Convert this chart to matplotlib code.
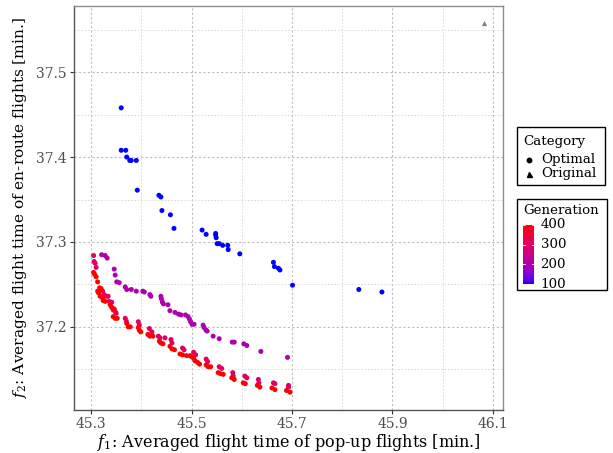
import numpy as np
import matplotlib
matplotlib.use("Agg")
import matplotlib.pyplot as plt
from matplotlib.colors import ListedColormap, Normalize
from matplotlib.patches import Rectangle
from matplotlib.lines import Line2D

plt.rcParams['font.family'] = ['DejaVu Serif']
plt.rcParams['mathtext.fontset'] = 'dejavuserif'

# ---------------- data ----------------
gen100_x = [45.360, 45.360, 45.369, 45.371, 45.377, 45.380, 45.390, 45.392, 45.435, 45.439,
            45.441, 45.458, 45.465, 45.521, 45.529, 45.548, 45.548, 45.549, 45.551, 45.555,
            45.562, 45.572, 45.573, 45.596, 45.663, 45.665, 45.673, 45.676, 45.701, 45.833,
            45.879]
gen100_y = [37.458, 37.408, 37.408, 37.400, 37.396, 37.396, 37.396, 37.361, 37.355, 37.353,
            37.337, 37.332, 37.316, 37.314, 37.309, 37.310, 37.308, 37.305, 37.298, 37.298,
            37.296, 37.296, 37.291, 37.286, 37.276, 37.271, 37.269, 37.267, 37.249, 37.244,
            37.241]

gen200_x = [45.321, 45.328, 45.332, 45.346, 45.348, 45.351, 45.356, 45.368, 45.371, 45.380,
            45.390, 45.403, 45.406, 45.417, 45.419, 45.439, 45.440, 45.442, 45.444, 45.453,
            45.457, 45.467, 45.474, 45.479, 45.488, 45.493, 45.496, 45.498, 45.501, 45.505,
            45.523, 45.525, 45.529, 45.531, 45.543, 45.555, 45.581, 45.585, 45.604, 45.610,
            45.638, 45.691]
gen200_y = [37.285, 37.284, 37.281, 37.268, 37.261, 37.253, 37.252, 37.247, 37.244, 37.244,
            37.242, 37.242, 37.241, 37.238, 37.236, 37.236, 37.233, 37.229, 37.227, 37.226,
            37.219, 37.217, 37.215, 37.214, 37.214, 37.212, 37.209, 37.206, 37.203, 37.203,
            37.202, 37.199, 37.196, 37.195, 37.189, 37.186, 37.182, 37.182, 37.180, 37.178,
            37.171, 37.164]

gen300_x = [45.305, 45.306, 45.308, 45.310, 45.323, 45.326, 45.331, 45.334, 45.336, 45.341,
            45.344, 45.348, 45.350, 45.368, 45.370, 45.394, 45.396, 45.416, 45.421, 45.434,
            45.437, 45.447, 45.459, 45.461, 45.482, 45.485, 45.504, 45.508, 45.529, 45.532,
            45.555, 45.560, 45.582, 45.583, 45.606, 45.610, 45.633, 45.634, 45.663, 45.666,
            45.693, 45.693]
gen300_y = [37.284, 37.277, 37.275, 37.270, 37.242, 37.238, 37.236, 37.236, 37.230, 37.229,
            37.220, 37.218, 37.216, 37.210, 37.207, 37.206, 37.202, 37.198, 37.194, 37.189,
            37.187, 37.187, 37.185, 37.181, 37.175, 37.173, 37.170, 37.167, 37.162, 37.159,
            37.153, 37.151, 37.146, 37.142, 37.142, 37.140, 37.138, 37.134, 37.134, 37.133,
            37.131, 37.129]

gen400_x = [45.305, 45.307, 45.310, 45.313, 45.317, 45.320, 45.313, 45.315, 45.318, 45.323,
            45.324, 45.328, 45.338, 45.341, 45.346, 45.344, 45.348, 45.352, 45.371, 45.374,
            45.378, 45.394, 45.396, 45.399, 45.413, 45.417, 45.423, 45.436, 45.439, 45.443,
            45.457, 45.461, 45.466, 45.477, 45.482, 45.490, 45.497, 45.500, 45.504, 45.507,
            45.512, 45.516, 45.529, 45.533, 45.538, 45.553, 45.557, 45.563, 45.580, 45.585,
            45.603, 45.607, 45.631, 45.636, 45.660, 45.666, 45.689, 45.696]
gen400_y = [37.264, 37.262, 37.259, 37.253, 37.246, 37.245, 37.242, 37.240, 37.236, 37.234,
            37.231, 37.230, 37.226, 37.223, 37.221, 37.212, 37.210, 37.210, 37.204, 37.200,
            37.200, 37.199, 37.196, 37.194, 37.191, 37.189, 37.189, 37.183, 37.181, 37.180,
            37.177, 37.174, 37.173, 37.168, 37.167, 37.166, 37.166, 37.165, 37.163, 37.160,
            37.158, 37.156, 37.155, 37.153, 37.153, 37.146, 37.145, 37.144, 37.140, 37.138,
            37.134, 37.133, 37.131, 37.129, 37.128, 37.126, 37.125, 37.123]

original_x = [46.082]
original_y = [37.558]

gen_min, gen_max = 100, 400
x_ticks = [45.3, 45.5, 45.7, 45.9, 46.1]
y_ticks = [37.2, 37.3, 37.4, 37.5]
cbar_ticks = [100, 200, 300, 400]

# ---------------- colour scale (Lab interpolation blue -> red) ----------------
def srgb_to_lab(rgb):
    c = np.array(rgb, float)
    c = np.where(c > 0.04045, ((c + 0.055) / 1.055) ** 2.4, c / 12.92)
    M = np.array([[0.4124, 0.3576, 0.1805], [0.2126, 0.7152, 0.0722], [0.0193, 0.1192, 0.9505]])
    X, Y, Z = M @ c
    X /= 0.95047; Z /= 1.08883
    f = lambda t: np.where(t > 0.008856, np.cbrt(t), 7.787 * t + 16 / 116)
    fx, fy, fz = f(X), f(Y), f(Z)
    return np.array([116 * fy - 16, 500 * (fx - fy), 200 * (fy - fz)])

def lab_to_srgb(lab):
    L, a, b = lab
    fy = (L + 16) / 116; fx = fy + a / 500; fz = fy - b / 200
    finv = lambda t: t ** 3 if t ** 3 > 0.008856 else (t - 16 / 116) / 7.787
    X, Y, Z = 0.95047 * finv(fx), finv(fy), 1.08883 * finv(fz)
    M = np.array([[3.2406, -1.5372, -0.4986], [-0.9689, 1.8758, 0.0415], [0.0557, -0.2040, 1.0570]])
    c = M @ np.array([X, Y, Z])
    c = np.clip(c, 0, 1)
    c = np.where(c > 0.0031308, 1.055 * c ** (1 / 2.4) - 0.055, 12.92 * c)
    return np.clip(c, 0, 1)

lab_lo = srgb_to_lab([0, 0, 1])
lab_hi = srgb_to_lab([1, 0, 0])
cols = [lab_to_srgb(lab_lo + (lab_hi - lab_lo) * t) for t in np.linspace(0, 1, 256)]
cmap = ListedColormap(cols)
norm = Normalize(gen_min, gen_max)

# ---------------- figure ----------------
W, H = 613, 453
fig = plt.figure(figsize=(W / 100, H / 100), dpi=100)
L_, R_, T_, B_ = 74, 503, 6, 410
ax = fig.add_axes([L_ / W, 1 - B_ / H, (R_ - L_) / W, (B_ - T_) / H])

ax.set_xlim(45.266, 46.120)
ax.set_ylim(37.102, 37.578)

ax.set_xticks(x_ticks)
ax.set_xticklabels([f"{v:.1f}" for v in x_ticks])
ax.set_yticks(y_ticks)
ax.set_yticklabels([f"{v:.1f}" for v in y_ticks])
ax.set_xticks([45.4, 45.6, 45.8, 46.0], minor=True)
ax.set_yticks([37.15, 37.25, 37.35, 37.45, 37.55], minor=True)
ax.tick_params(which='major', length=3, width=0.8, color='#333333', labelsize=10,
               labelcolor='#4D4D4D', pad=2)
ax.tick_params(which='minor', length=0)
ax.grid(which='major', color='#BDBDBD', linestyle=(0, (2, 2)), linewidth=0.8)
ax.grid(which='minor', color='#D6D6D6', linestyle=(0, (2, 2)), linewidth=0.6)
ax.set_axisbelow(True)
for s in ax.spines.values():
    s.set_color('#8C8C8C')
    s.set_linewidth(1.0)
ax.spines['left'].set_color('#555555')
ax.spines['bottom'].set_color('#555555')

ms = 13
for xs, ys, g in [(gen100_x, gen100_y, 100), (gen200_x, gen200_y, 200),
                  (gen300_x, gen300_y, 300), (gen400_x, gen400_y, 400)]:
    ax.scatter(xs, ys, c=[g] * len(xs), cmap=cmap, norm=norm, s=ms, marker='o',
               linewidths=0, zorder=3)
ax.scatter(original_x, original_y, color='#808080', s=14, marker='^', linewidths=0, zorder=3)

ax.set_xlabel(r"$f_1$: Averaged flight time of pop-up flights [min.]", fontsize=11.5, labelpad=1)
ax.set_ylabel(r"$f_2$: Averaged flight time of en-route flights [min.]", fontsize=11.1, labelpad=5)

# ---------------- legends ----------------
def fx(px): return px / W
def fy(py): return 1 - py / H

lfs = 9.6
# Category box
fig.patches.append(Rectangle((fx(517), fy(185)), (605 - 517) / W, (185 - 127) / H,
                             transform=fig.transFigure, fill=False, edgecolor='black', linewidth=1.0))
fig.text(fx(523), fy(141), "Category", fontsize=lfs, va='center', ha='left')
fig.add_artist(Line2D([fx(529)], [fy(160)], marker='o', color='black', markersize=3.2,
                      linestyle='none', transform=fig.transFigure))
fig.add_artist(Line2D([fx(529)], [fy(173.5)], marker='^', color='black', markersize=3.6,
                      linestyle='none', transform=fig.transFigure))
fig.text(fx(541), fy(160), "Optimal", fontsize=lfs, va='center', ha='left')
fig.text(fx(541), fy(173), "Original", fontsize=lfs, va='center', ha='left')

# Generation box
fig.patches.append(Rectangle((fx(517), fy(290)), (607 - 517) / W, (290 - 199) / H,
                             transform=fig.transFigure, fill=False, edgecolor='black', linewidth=1.0))
fig.text(fx(523), fy(211), "Generation", fontsize=lfs, va='center', ha='left')
cax = fig.add_axes([fx(523), fy(284), (534 - 523) / W, (284 - 225) / H])
grad = np.linspace(gen_min, gen_max, 256).reshape(-1, 1)
cax.imshow(grad, aspect='auto', cmap=cmap, norm=norm, origin='lower',
           extent=[0, 1, gen_min, gen_max])
cax.set_xlim(0, 1)
cax.set_ylim(gen_min, gen_max)
cax.set_xticks([])
cax.set_yticks([])
for s in cax.spines.values():
    s.set_visible(False)
for t in cbar_ticks:
    cax.plot([0, 0.2], [t, t], color='white', linewidth=0.6)
    cax.plot([0.8, 1], [t, t], color='white', linewidth=0.6)
    cax.text(1.6, t, str(t), fontsize=lfs, va='center', ha='left', transform=cax.transData,
             clip_on=False)

fig.savefig("out.png", dpi=100)
